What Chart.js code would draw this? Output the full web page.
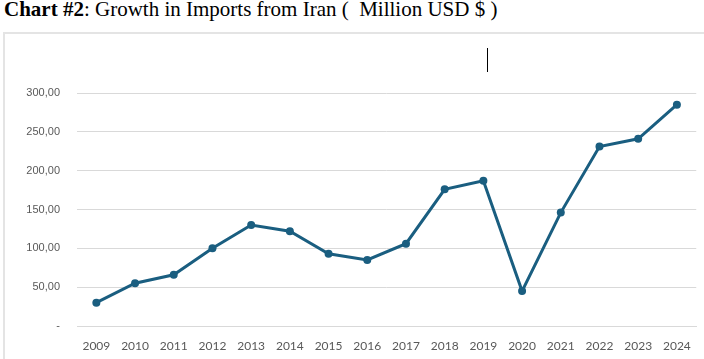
<!DOCTYPE html>
<html>
<head>
<meta charset="utf-8">
<script src="https://cdn.jsdelivr.net/npm/chart.js@4"></script>
<style>
  html, body { margin: 0; padding: 0; background: #fff; }
  #wrap { position: relative; width: 704px; height: 359px; overflow: hidden; }
  #title { position: absolute; left: 4px; top: -2px; font-family: "Liberation Serif", "Times New Roman", "DejaVu Serif", serif; font-size: 21px; color: #000; white-space: pre; line-height: 22px; }
  #frame { position: absolute; left: 3px; top: 32px; width: 720px; height: 340px; border-left: 2px solid #e4e4e4; border-top: 2px solid #e4e4e4; }
  #cursor { position: absolute; left: 487px; top: 48px; width: 1px; height: 24px; background: #000; }
  #chartBox { position: absolute; left: 0; top: 0; width: 704px; height: 359px; }
</style>
</head>
<body>
<div id="wrap">
  <div id="title"><b>Chart #2</b>: Growth in Imports from Iran (  Million USD $ )</div>
  <div id="frame"></div>
  <div id="cursor"></div>
  <div id="chartBox"><canvas id="importChart"></canvas></div>
</div>
<script>
// =========================================
// Data: imports from Iran (million USD)
// =========================================

let years = ["2009","2010","2011","2012","2013","2014","2015","2016","2017","2018","2019","2020","2021","2022","2023","2024"];

let imports = [30, 55, 66, 100, 130, 122, 93, 85, 106, 176, 187, 45, 146, 231, 241, 285];

let yTicks = [0, 50, 100, 150, 200, 250, 300];

function fmtTick(v){
    if (v === 0) return "-";
    return v.toFixed(2).replace(".", ",");
}

let ctx = document.getElementById("importChart").getContext("2d");

new Chart(ctx, {
    type: "line",
    data: {
        labels: years,
        datasets: [{
            label: "Imports",
            data: imports,
            borderColor: "#1a5e80",
            backgroundColor: "#1a5e80",
            borderWidth: 3,
            tension: 0,
            fill: false,
            pointRadius: 4,
            pointBackgroundColor: "#1a5e80",
            pointBorderWidth: 0
        }]
    },
    options: {
        responsive: true,
        maintainAspectRatio: false,
        animation: false,
        layout: { padding: { top: 93, right: 6, left: 0, bottom: 0 } },
        plugins: {
            legend: { display: false },
            tooltip: { enabled: false }
        },
        scales: {
            x: {
                offset: true,
                grid: { display: false, drawTicks: false },
                border: { display: true, color: "#d9d9d9", width: 1 },
                ticks: {
                    padding: 13,
                    color: "#595959",
                    font: { family: "Lato", size: 12 },
                    maxRotation: 0,
                    autoSkip: false
                },
                afterFit: function(scale){ scale.height = 33; }
            },
            y: {
                min: 0,
                max: 300,
                afterBuildTicks: function(scale){
                    scale.ticks = yTicks.map(v => ({ value: v }));
                },
                grid: { color: "#d9d9d9", lineWidth: 1, drawTicks: false },
                border: { display: false },
                ticks: {
                    padding: 17,
                    color: "#595959",
                    font: { family: "Liberation Sans", size: 11 },
                    callback: function(v){ return fmtTick(v); }
                },
                afterFit: function(scale){ scale.width = 77; }
            }
        }
    }
});
</script>
</body>
</html>
